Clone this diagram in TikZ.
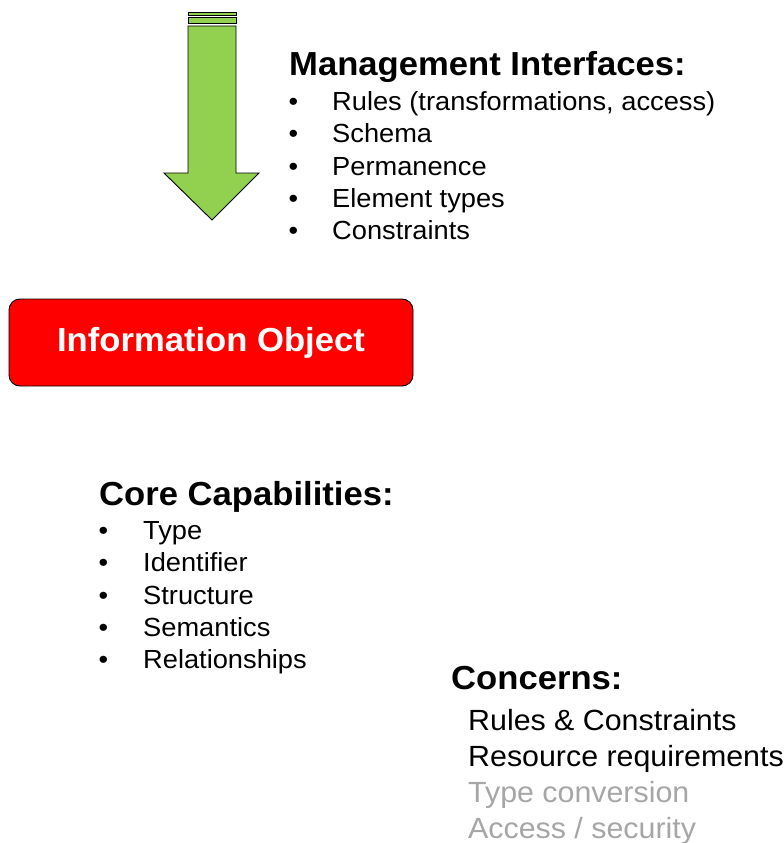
\documentclass[tikz,border=0pt]{standalone}
\usepackage{fontspec}
\setmainfont[FakeStretch=1.04]{Liberation Sans}
\definecolor{arrowgreen}{HTML}{92D050}
\definecolor{boxred}{HTML}{FF0000}
\definecolor{dimgray}{HTML}{A6A6A6}
\begin{document}
\begin{tikzpicture}[x=1pt,y=-1pt,
  head/.style={anchor=base west,inner sep=0pt,font=\fontsize{33.3}{33.3}\selectfont\bfseries},
  item/.style={anchor=base west,inner sep=0pt,font=\fontsize{26.2}{26.2}\selectfont},
  citem/.style={anchor=base west,inner sep=0pt,font=\fontsize{29.2}{29.2}\selectfont},
  bul/.style={anchor=base west,inner sep=0pt,font=\fontsize{26.2}{26.2}\selectfont},
  arrowpart/.style={fill=arrowgreen,draw=black,line width=0.9pt,line join=miter}
]
\useasboundingbox (0,0) rectangle (784,843);
% green arrow
\draw[arrowpart] (188,12) rectangle (236,15);
\draw[arrowpart] (188,17.5) rectangle (236,23);
\draw[arrowpart] (188,26) -- (188,173) -- (164,173) -- (212,220) -- (259,173) -- (236,173) -- (236,26) -- cycle;
% red box
\node[draw=black,line width=0.9pt,fill=boxred,rounded corners=11pt,minimum width=404pt,minimum height=87pt,
  inner sep=0pt,text=white,font=\fontsize{33.3}{33.3}\selectfont\bfseries] (io) at (211,342.5) {Information Object};
% management interfaces
\node[head] (mh) at (289,75) {Management Interfaces:};
\foreach \t [count=\i] in {Rules (transformations{,} access),Schema,Permanence,Element types,Constraints}{
  \node[bul] (mb\i) at (288.5,{110.5+32.25*(\i-1)}) {•};
  \node[item] (mi\i) at (332,{110.5+32.25*(\i-1)}) {\t};
}
% core capabilities
\node[head] (ch) at (99,505) {Core Capabilities:};
\foreach \t [count=\i] in {Type,Identifier,Structure,Semantics,Relationships}{
  \node[bul] (cb\i) at (98.5,{539.5+32.25*(\i-1)}) {•};
  \node[item] (ci\i) at (143,{539.5+32.25*(\i-1)}) {\t};
}
% concerns
\node[head] (kh) at (451,689) {Concerns:};
\node[citem] (k1) at (468,730) {Rules \& Constraints};
\node[citem] (k2) at (468,766) {Resource requirements};
\node[citem,text=dimgray] (k3) at (468,802) {Type conversion};
\node[citem,text=dimgray] (k4) at (468,838) {Access / security};
\end{tikzpicture}
\end{document}
